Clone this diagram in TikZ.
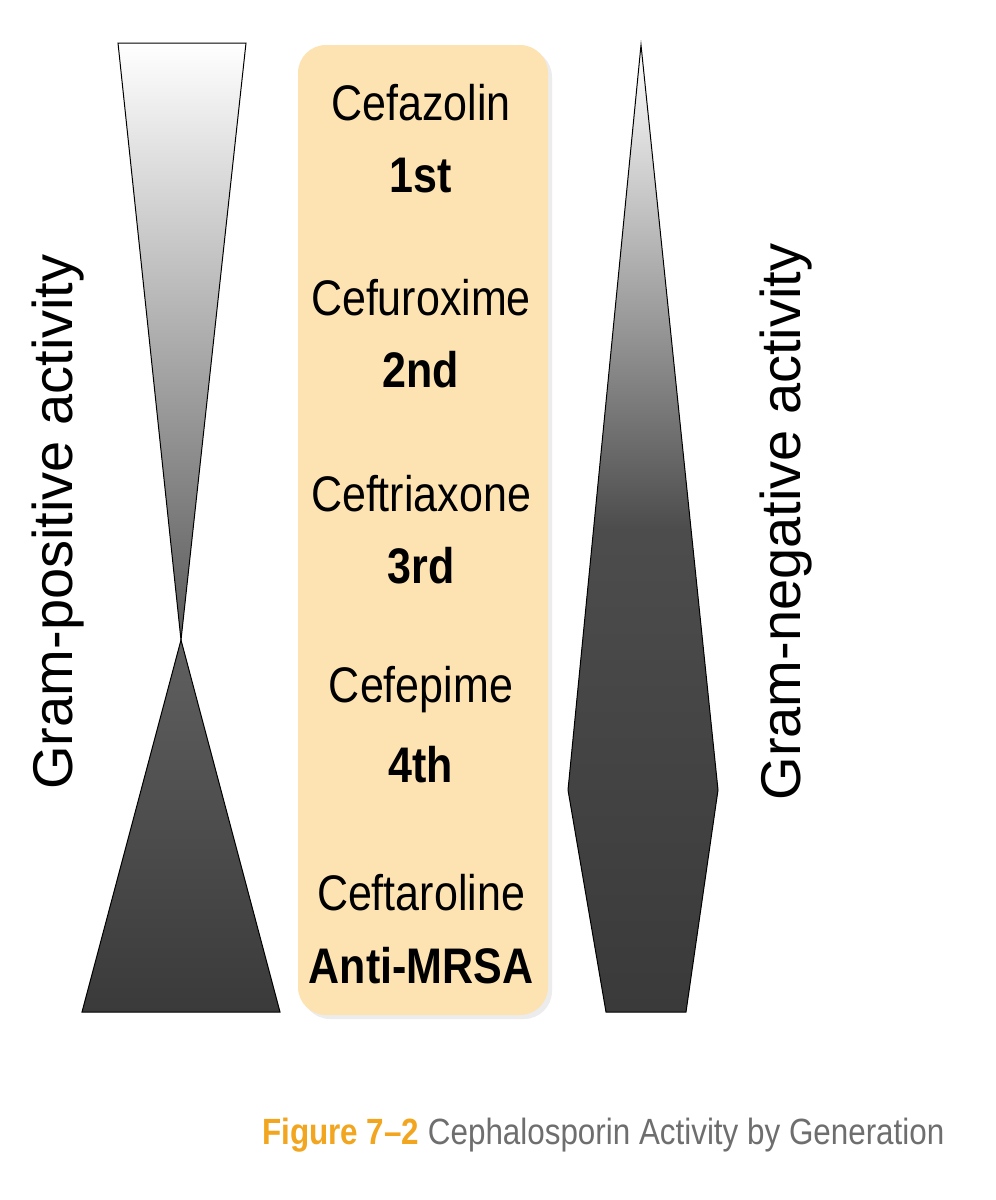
\documentclass[tikz,border=0pt]{standalone}
\usepackage{fontspec}
\setmainfont{Liberation Sans}[FakeStretch=0.86]
\newfontfamily\widefont{Liberation Sans}
\usetikzlibrary{shadows}
\definecolor{boxfill}{HTML}{FDE3B2}
\definecolor{figorange}{HTML}{F2A51E}
\definecolor{capgrey}{HTML}{6E6E6E}
\definecolor{darkg}{HTML}{3A3A3A}
\begin{document}
\begin{tikzpicture}[x=1pt,y=-1pt,
  drug/.style={font=\fontsize{50}{54}\selectfont, text=black},
  gen/.style={font=\fontsize{50}{54}\selectfont\bfseries, text=black},
  side/.style={font=\widefont\fontsize{56}{60}\selectfont, rotate=90, text=black}]
\useasboundingbox (0,0) rectangle (996,1200);
\fill[white] (0,0) rectangle (996,1200);
% left shapes
\shade[top color=white, bottom color=gray!70!black, draw=black, line width=1pt]
  (118,43) -- (246,43) -- (181,640) -- cycle;
\shade[top color=gray!75!black, bottom color=darkg, draw=black, line width=1pt]
  (181,640) -- (280,1012) -- (82,1012) -- cycle;
% right shape
\shade[top color=white, bottom color=darkg, middle color=gray!60!black, draw=black, line width=1pt]
  (641,45) -- (718,790) -- (686,1012) -- (606,1012) -- (568,790) -- cycle;
% box
\node[draw=none, fill=boxfill, rounded corners=28pt, minimum width=250pt, minimum height=970pt,
  drop shadow={opacity=0.15, shadow xshift=4pt, shadow yshift=-4pt}] (box) at (423,530) {};
\node[drug] (d1) at (421,103) {Cefazolin};
\node[gen]  (g1) at (421,176) {1st};
\node[drug] (d2) at (421,298) {Cefuroxime};
\node[gen]  (g2) at (421,370) {2nd};
\node[drug] (d3) at (421,494) {Ceftriaxone};
\node[gen]  (g3) at (421,566) {3rd};
\node[drug] (d4) at (421,690) {Cefepime};
\node[gen]  (g4) at (421,765) {4th};
\node[drug] (d5) at (421,893) {Ceftaroline};
\node[gen]  (g5) at (421,966) {Anti-MRSA};
% side labels
\node[side] (gp) at (58,522) {Gram-positive activity};
\node[side] (gn) at (786,522) {Gram-negative activity};
% caption
\node[anchor=west, inner sep=0pt, font=\fontsize{36.5}{40}\selectfont] (cap) at (262,1135)
  {\textcolor{figorange}{\bfseries Figure 7–2} \textcolor{capgrey}{Cephalosporin Activity by Generation}};
\end{tikzpicture}
\end{document}
